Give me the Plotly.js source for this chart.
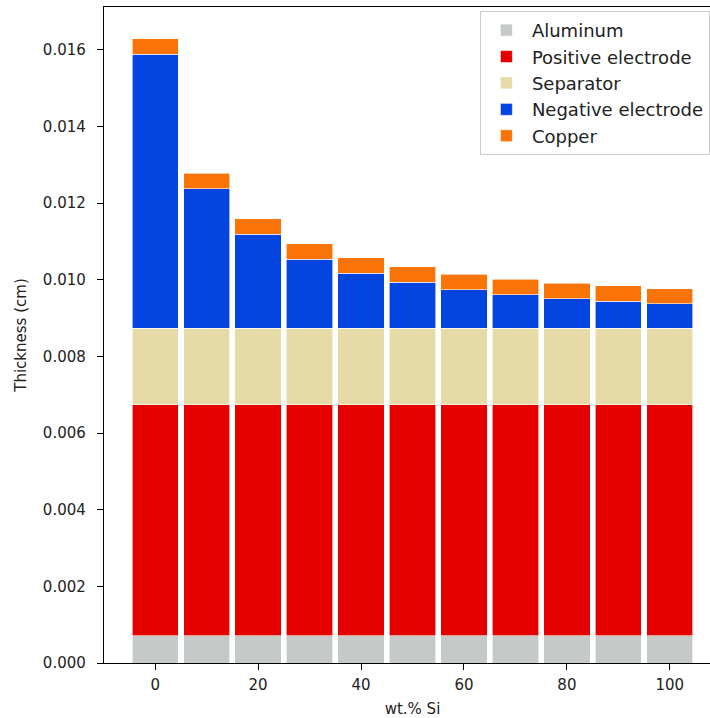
<!DOCTYPE html>
<html>
<head>
<meta charset="utf-8">
<script src="https://cdn.plot.ly/plotly-3.0.1.min.js"></script>
<style>
  html, body { margin: 0; padding: 0; overflow: hidden; background: #fff; }
  #chart { width: 730px; height: 718px; }
</style>
</head>
<body>
<div id="chart"></div>
<script>
// Silicon content of the negative electrode (wt.%)
const siContent = [0, 10, 20, 30, 40, 50, 60, 70, 80, 90, 100];

// Layer thicknesses in cm
const aluminum = [0.00071, 0.00071, 0.00071, 0.00071, 0.00071, 0.00071, 0.00071, 0.00071, 0.00071, 0.00071, 0.00071];
const positiveElectrode = [0.00603, 0.00603, 0.00603, 0.00603, 0.00603, 0.00603, 0.00603, 0.00603, 0.00603, 0.00603, 0.00603];
const separator = [0.002, 0.002, 0.002, 0.002, 0.002, 0.002, 0.002, 0.002, 0.002, 0.002, 0.002];
const negativeElectrode = [0.00715, 0.00364, 0.00245, 0.00180, 0.00143, 0.00120, 0.00100, 0.00087, 0.00077, 0.00070, 0.00063];
const copper = [0.0004, 0.0004, 0.0004, 0.0004, 0.0004, 0.0004, 0.0004, 0.0004, 0.0004, 0.0004, 0.0004];

const layers = [
  { name: 'Aluminum', values: aluminum, color: '#c5c9c7' },
  { name: 'Positive electrode', values: positiveElectrode, color: '#e50000' },
  { name: 'Separator', values: separator, color: '#e6daa6' },
  { name: 'Negative electrode', values: negativeElectrode, color: '#0343df' },
  { name: 'Copper', values: copper, color: '#f97306' }
];

const traces = layers.map(l => ({
  type: 'bar',
  name: l.name,
  legendgroup: l.name,
  x: siContent,
  y: l.values,
  width: 9,
  marker: { color: l.color, line: { color: '#ffffff', width: 0.6 } },
  hoverinfo: 'x+y+name'
}));

const font = { family: 'DejaVu Sans, sans-serif', color: '#000' };

const layout = {
  width: 730,
  height: 718,
  margin: { l: 104, r: 9, t: 7, b: 55 },
  barmode: 'stack',
  paper_bgcolor: '#fff',
  plot_bgcolor: '#fff',
  font: font,
  showlegend: true,
  legend: {
    x: 0.982, y: 0.994, xanchor: 'right', yanchor: 'top',
    bgcolor: 'rgba(255,255,255,0.8)',
    bordercolor: '#cccccc', borderwidth: 1,
    font: { family: 'DejaVu Sans, sans-serif', size: 18, color: '#222' },
    traceorder: 'normal',
    itemwidth: 41
  },
  xaxis: {
    range: [-9.95, 109.95],
    tickvals: [0, 20, 40, 60, 80, 100],
    ticktext: ['0', '20', '40', '60', '80', '100'],
    ticks: 'outside', ticklen: 6, tickwidth: 1, tickcolor: '#000',
    ticklabelstandoff: 2,
    showline: true, linecolor: '#000', linewidth: 1.2, mirror: true,
    showgrid: false, zeroline: false,
    tickfont: { size: 15, color: '#222' },
    title: { text: 'wt.% Si', font: { size: 15, color: '#222' }, standoff: 12 }
  },
  yaxis: {
    range: [0, 0.01712],
    tickvals: [0, 0.002, 0.004, 0.006, 0.008, 0.010, 0.012, 0.014, 0.016],
    tickformat: '.3f',
    ticks: 'outside', ticklen: 6, tickwidth: 1, tickcolor: '#000',
    ticklabelstandoff: 8,
    showline: true, linecolor: '#000', linewidth: 1.2, mirror: true,
    showgrid: false, zeroline: false,
    tickfont: { size: 15, color: '#222' },
    title: { text: 'Thickness (cm)', font: { size: 15, color: '#222' }, standoff: 12 }
  }
};

Plotly.newPlot('chart', traces, layout, { displayModeBar: false, staticPlot: true });
</script>
</body>
</html>
